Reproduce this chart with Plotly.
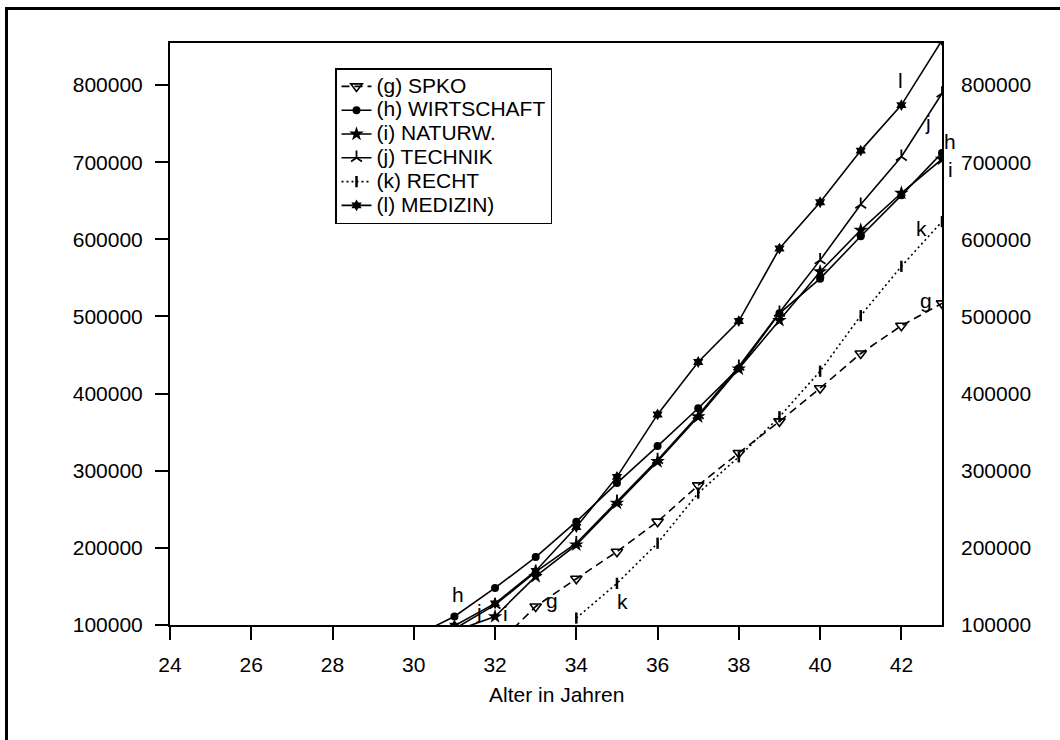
import plotly.graph_objects as go

FONT = "Liberation Sans, Arial, sans-serif"

# ---- data ----
age_g = [32, 33, 34, 35, 36, 37, 38, 39, 40, 41, 42, 43]
val_g = [72000, 124000, 160000, 195000, 234000, 281000, 323000, 364000, 407000, 452000, 488000, 517000]

age_h = [30, 31, 32, 33, 34, 35, 36, 37, 38, 39, 40, 41, 42, 43]
val_h = [85000, 111000, 148000, 188000, 234000, 284000, 332000, 381000, 433000, 504000, 549000, 604000, 657000, 712000]

age_i = [31, 32, 33, 34, 35, 36, 37, 38, 39, 40, 41, 42, 43]
val_i = [92000, 111000, 163000, 204000, 258000, 312000, 370000, 432000, 495000, 558000, 612000, 660000, 704000]

age_j = [31, 32, 33, 34, 35, 36, 37, 38, 39, 40, 41, 42, 43]
val_j = [95000, 126000, 169000, 206000, 260000, 314000, 372000, 435000, 505000, 573000, 645000, 707000, 789000]

age_k = [34, 35, 36, 37, 38, 39, 40, 41, 42, 43]
val_k = [109000, 154000, 206000, 271000, 318000, 370000, 429000, 501000, 565000, 623000]

age_l = [31, 32, 33, 34, 35, 36, 37, 38, 39, 40, 41, 42, 43]
val_l = [99000, 128000, 170000, 227000, 292000, 373000, 441000, 494000, 588000, 648000, 715000, 774000, 858000]

names = ["(g) SPKO", "(h) WIRTSCHAFT", "(i) NATURW.", "(j) TECHNIK", "(k) RECHT", "(l) MEDIZIN)"]
x_title = "Alter in Jahren"

x_ticks = [24, 26, 28, 30, 32, 34, 36, 38, 40, 42]
y_ticks = [100000, 200000, 300000, 400000, 500000, 600000, 700000, 800000]
x_range = [24, 43]
y_range = [100000, 854500]

# curve labels: (text, x, y, xshift)
start_labels = [("h", 31.1, 139000, 0), ("j", 31.6, 117000, 0), ("i", 32.26, 115000, 0),
                ("g", 33.41, 132000, 0), ("k", 35.14, 130000, 0)]
end_labels = [("l", 41.98, 806000, 0), ("j", 42.66, 752000, 0), ("h", 43, 727000, 8),
              ("i", 43, 691000, 8), ("k", 42.5, 614000, 0), ("g", 42.61, 521000, 0)]

# ---- figure ----
fig = go.Figure()
BLACK = "black"
LBL = "<span style='font-size:21px'>{}</span>"

fig.add_trace(go.Scatter(x=age_g, y=val_g, name=LBL.format(names[0]), mode="lines+markers",
                         line=dict(color=BLACK, width=1.6, dash="8px,5px"),
                         marker=dict(symbol="triangle-down-open", size=10, color=BLACK,
                                     line=dict(width=1.6, color=BLACK))))
fig.add_trace(go.Scatter(x=age_h, y=val_h, name=LBL.format(names[1]), mode="lines+markers",
                         line=dict(color=BLACK, width=1.6),
                         marker=dict(symbol="circle", size=8, color=BLACK)))
fig.add_trace(go.Scatter(x=age_i, y=val_i, name=LBL.format(names[2]), mode="lines+markers",
                         line=dict(color=BLACK, width=1.6),
                         marker=dict(symbol="star", size=11, color=BLACK)))
fig.add_trace(go.Scatter(x=age_j, y=val_j, name=LBL.format(names[3]), mode="lines+markers",
                         line=dict(color=BLACK, width=1.6),
                         marker=dict(symbol="y-up", size=9, color=BLACK,
                                     line=dict(width=1.8, color=BLACK))))
fig.add_trace(go.Scatter(x=age_k, y=val_k, name=LBL.format(names[4]), mode="lines+markers",
                         line=dict(color=BLACK, width=1.6, dash="2px,3px"),
                         marker=dict(symbol="line-ns", size=8, color=BLACK,
                                     line=dict(width=2.5, color=BLACK))))
fig.add_trace(go.Scatter(x=age_l, y=val_l, name=LBL.format(names[5]), mode="lines+markers",
                         line=dict(color=BLACK, width=1.6),
                         marker=dict(symbol="hexagram", size=9, color=BLACK)))
# empty trace so the right-hand axis is built
fig.add_trace(go.Scatter(x=[], y=[], yaxis="y2", showlegend=False, hoverinfo="skip"))

for txt, xv, yv, xs in start_labels + end_labels:
    fig.add_annotation(x=xv, y=yv, text=txt, showarrow=False, xshift=xs,
                       font=dict(family=FONT, size=21, color=BLACK))

L, R, T, B = 170, 942, 43, 625
pw, ph = R - L, B - T

# x-axis title
fig.add_annotation(xref="paper", yref="paper", x=0.5, y=(B - 694) / ph, yanchor="middle",
                   text=x_title, showarrow=False, font=dict(family=FONT, size=21, color=BLACK))

# outer frame (only top and left edges lie inside the picture)
fig.add_shape(type="rect", xref="paper", yref="paper",
              x0=(6.5 - L) / pw, x1=(1075 - L) / pw,
              y0=(B - 760) / ph, y1=(B - 8.5) / ph,
              line=dict(color=BLACK, width=3), fillcolor="rgba(0,0,0,0)", layer="below")

axis_font = dict(family=FONT, size=21, color=BLACK)
fig.update_layout(
    width=1060, height=740, autosize=False,
    margin=dict(l=L, r=1060 - R, t=T, b=740 - B, pad=0),
    paper_bgcolor="white", plot_bgcolor="white",
    font=dict(family=FONT, size=21, color=BLACK),
    xaxis=dict(range=x_range, tickvals=x_ticks, ticks="outside", ticklen=13, tickwidth=2,
               tickcolor=BLACK, showline=True, linecolor=BLACK, linewidth=2, mirror=True,
               showgrid=False, zeroline=False, tickfont=axis_font, ticklabelstandoff=7),
    yaxis=dict(range=y_range, tickvals=y_ticks, tickformat="d", ticks="outside", ticklen=13,
               tickwidth=2, tickcolor=BLACK, showline=True, linecolor=BLACK, linewidth=2,
               mirror=True, showgrid=False, zeroline=False, tickfont=axis_font,
               ticklabelstandoff=8),
    yaxis2=dict(range=y_range, tickvals=y_ticks, tickformat="d", overlaying="y", side="right",
                ticks="", showline=False, showgrid=False, zeroline=False, tickfont=axis_font,
                ticklabelstandoff=18),
    legend=dict(x=(335 - L) / pw, y=(B - 68) / ph, xanchor="left", yanchor="top",
                bgcolor="white", bordercolor=BLACK, borderwidth=1.5, itemwidth=30,
                font=dict(family=FONT, size=16, color=BLACK), traceorder="normal"),
    showlegend=True,
)

fig.write_html("out.html")
